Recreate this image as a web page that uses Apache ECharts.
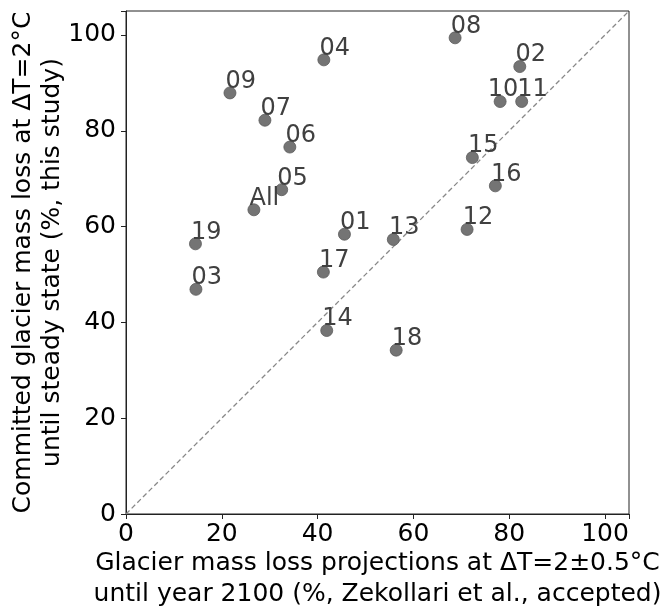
<!DOCTYPE html>
<html>
<head>
<meta charset="utf-8">
<script src="https://cdn.jsdelivr.net/npm/echarts@6/dist/echarts.min.js"></script>
<style>
  html, body { margin: 0; padding: 0; background: #fff; }
  #chart { width: 661px; height: 607px; }
</style>
</head>
<body>
<div id="chart"></div>
<script>
// 区域编号及数据（横轴：Zekollari 预测，纵轴：本研究）
const regionNames = ['01', '02', '03', '04', '05', '06', '07', '08', '09', '10',
                     '11', '12', '13', '14', '15', '16', '17', '18', '19', 'All'];
const projectionLoss = [45.6, 82.2, 14.6, 41.3, 32.5, 34.2, 29.0, 68.7, 21.7, 78.1,
                        82.6, 71.2, 55.8, 41.9, 72.3, 77.1, 41.2, 56.4, 14.5, 26.7];
const committedLoss = [58.4, 93.4, 46.9, 94.8, 67.7, 76.6, 82.2, 99.4, 87.9, 86.1,
                       86.1, 59.4, 57.3, 38.3, 74.4, 68.5, 50.5, 34.2, 56.4, 63.5];
const axisTicks = [0, 20, 40, 60, 80, 100];
const oneToOne = [[0, 0], [105, 105]];

const fontFamily = 'DejaVu Sans';

// "10" 的标签在原图中向左挪了一点，避免和 "11" 叠在一起
const points = regionNames.map((name, i) => {
    const item = { name: name, value: [projectionLoss[i], committedLoss[i]] };
    if (name === '10') {
        item.label = { position: [-6, 7] };
    }
    return item;
});

function axisCommon (name, nameGap, nameLineHeight, labelMargin) {
    return {
        type: 'value',
        min: 0,
        max: 105,
        interval: 20,
        name: name,
        nameLocation: 'middle',
        nameGap: nameGap,
        nameMoveOverlap: false,
        nameTextStyle: {
            fontFamily: fontFamily,
            fontSize: 25,
            color: '#000',
            lineHeight: nameLineHeight
        },
        splitLine: { show: false },
        axisLine: {
            show: true,
            onZero: false,
            lineStyle: { color: '#222', width: 1 }
        },
        axisTick: {
            show: true,
            inside: false,
            length: 5,
            lineStyle: { color: '#222' }
        },
        axisLabel: {
            fontFamily: fontFamily,
            fontSize: 25,
            color: '#000',
            margin: labelMargin,
            formatter: (v) => (axisTicks.indexOf(v) >= 0 ? String(v) : '')
        }
    };
}

const chart = echarts.init(document.getElementById('chart'));

const option = {
    animation: false,
    backgroundColor: '#fff',
    grid: {
        left: 126,
        right: 32,
        top: 11,
        bottom: 93,
        outerBoundsMode: 'none',
        show: true,
        borderColor: '#222',
        borderWidth: 1
    },
    xAxis: axisCommon('Glacier mass loss projections at ΔT=2±0.5°C\nuntil year 2100 (%, Zekollari et al., accepted)', 34, 31, 8),
    yAxis: axisCommon('Committed glacier mass loss at ΔT=2°C\nuntil steady state (%, this study)', 59, 29, 10),
    series: [
        {
            type: 'line',
            data: oneToOne,
            symbol: 'none',
            silent: true,
            lineStyle: {
                color: '#888',
                width: 1.3,
                type: [5, 3]
            },
            z: 1
        },
        {
            type: 'scatter',
            data: points,
            symbolSize: 12,
            itemStyle: {
                color: '#747474',
                borderColor: '#5a5a5a',
                borderWidth: 0.8,
                opacity: 1
            },
            label: {
                show: true,
                formatter: '{b}',
                position: [2, 7],
                align: 'left',
                verticalAlign: 'bottom',
                fontFamily: fontFamily,
                fontSize: 24,
                lineHeight: 24,
                color: '#404040'
            },
            z: 2
        }
    ]
};

chart.setOption(option);
</script>
</body>
</html>
